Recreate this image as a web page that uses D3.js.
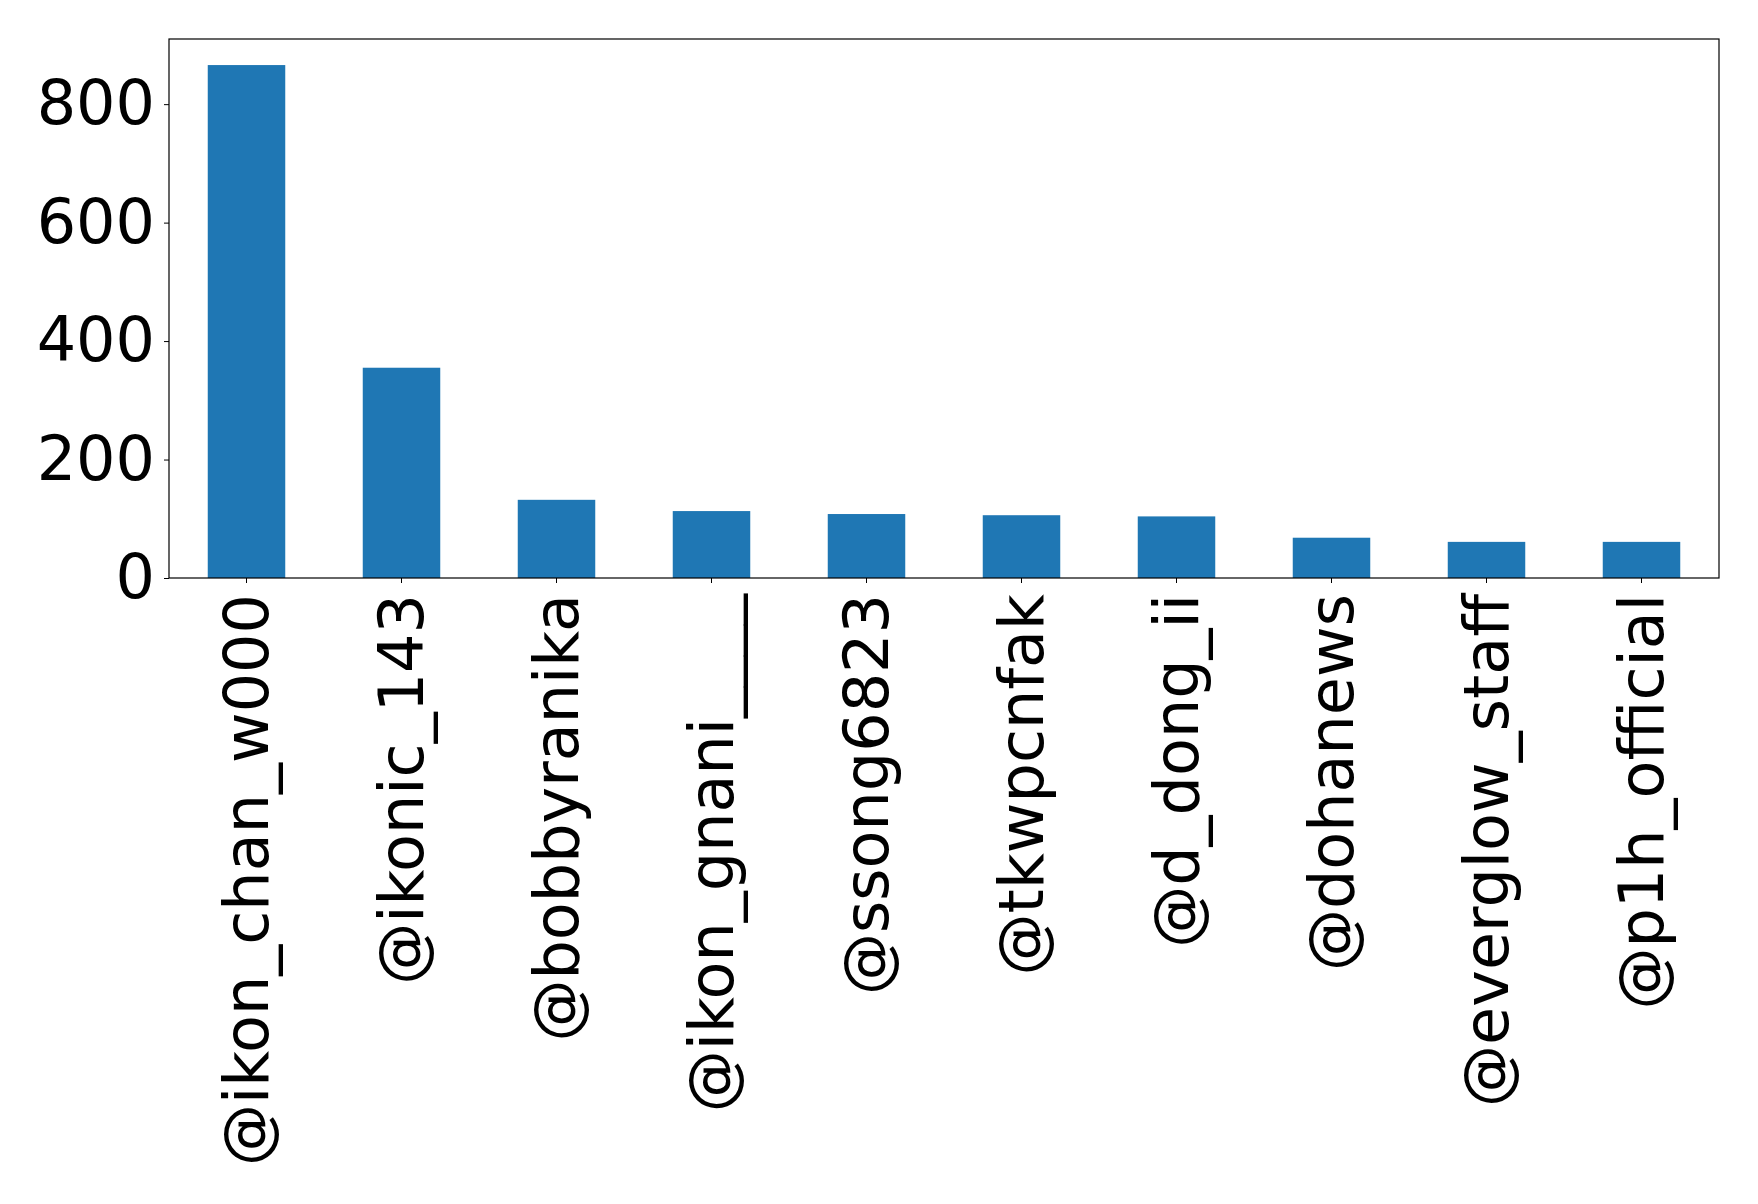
<!DOCTYPE html>
<html><head><meta charset="utf-8">
<script src="https://cdn.jsdelivr.net/npm/d3@7"></script>
<style>body{margin:0;background:#fff}svg{display:block}</style>
</head><body>
<svg id="c" width="1758" height="1204"></svg>
<script>
const categories = ["@ikon_chan_w000","@ikonic_143","@bobbyranika","@ikon_gnani____","@ssong6823","@tkwpcnfak","@d_dong_ii","@dohanews","@everglow_staff","@p1h_official"];
const values = [866, 355, 132, 113, 108, 106, 104, 68, 61, 61];
const yTicks = [0, 200, 400, 600, 800];

const svg = d3.select("#c");
const m = {left:169, top:39, right:1719, bottom:578};
const x = d3.scaleBand().domain(categories).range([m.left, m.right]).paddingInner(0.5).paddingOuter(0.25);
const y = d3.scaleLinear().domain([0, 910]).range([m.bottom, m.top]);

svg.selectAll("rect.bar").data(values).enter().append("rect")
  .attr("class","bar")
  .attr("x",(d,i)=>x(categories[i]))
  .attr("width",x.bandwidth())
  .attr("y",d=>y(d))
  .attr("height",d=>y(0)-y(d))
  .attr("fill","#1f77b4");

const font = "'DejaVu Sans', sans-serif";
const ya = svg.append("g").attr("transform",`translate(${m.left},0)`)
  .call(d3.axisLeft(y).tickValues(yTicks).tickSize(5).tickPadding(9).tickFormat(d3.format("d")));
ya.select(".domain").remove();
ya.selectAll("text").attr("font-family",font).attr("font-size",62).attr("fill","#000");
ya.selectAll("line").attr("stroke","#000");

const xa = svg.append("g").attr("transform",`translate(0,${m.bottom})`)
  .call(d3.axisBottom(x).tickSize(5).tickPadding(9));
xa.select(".domain").remove();
xa.selectAll("line").attr("stroke","#000");
xa.selectAll("text").attr("font-family",font).attr("font-size",62).attr("fill","#000")
  .attr("text-anchor","end").attr("dy","0.35em")
  .attr("transform","rotate(-90)").attr("x",-16).attr("y",0);

svg.append("rect").attr("x",m.left).attr("y",m.top).attr("width",m.right-m.left).attr("height",m.bottom-m.top)
  .attr("fill","none").attr("stroke","#000").attr("stroke-width",1.2);
</script>
</body></html>
